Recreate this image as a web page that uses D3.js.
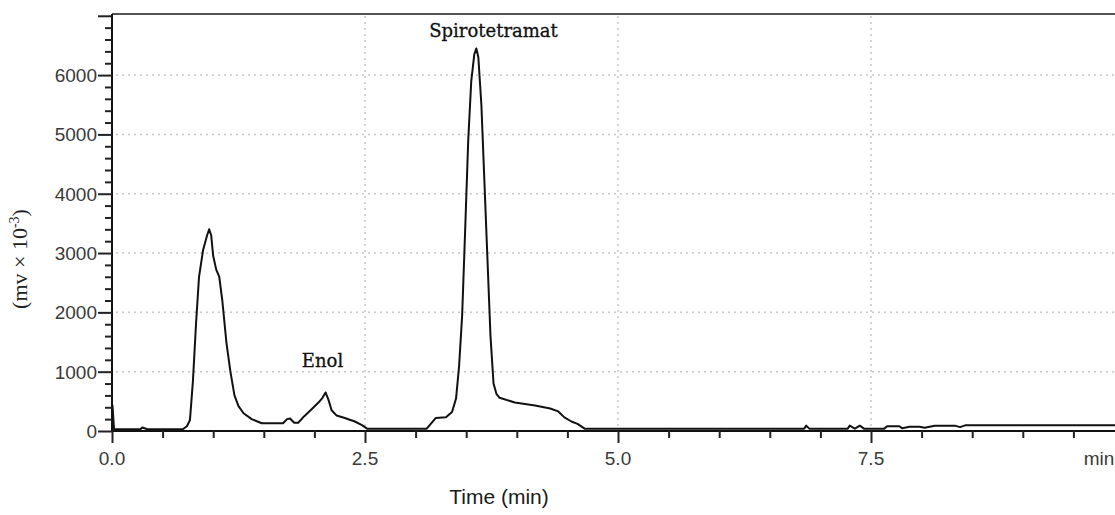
<!DOCTYPE html>
<html>
<head>
<meta charset="utf-8">
<script src="https://cdn.jsdelivr.net/npm/d3@7"></script>
<style>
  html, body { margin: 0; padding: 0; background: #fff; overflow: hidden; }
  svg { display: block; }
</style>
</head>
<body>
<div id="chart"></div>
<script>
/* ── Data ─────────────────────────────────────────────────────────── */
const TIME = [0.00, 0.005, 0.02, 0.28, 0.30, 0.35, 0.70, 0.74, 0.77, 0.80, 0.83, 0.86, 0.90, 0.94, 0.96,
  0.98, 1.00, 1.03, 1.06, 1.09, 1.13, 1.17, 1.21, 1.25, 1.30, 1.38, 1.48, 1.69, 1.73, 1.76, 1.80,
  1.84, 1.90, 1.98, 2.04, 2.08, 2.11, 2.14, 2.17, 2.22, 2.30, 2.40, 2.47, 2.52, 3.11, 3.15, 3.20,
  3.30, 3.36, 3.40, 3.43, 3.46, 3.49, 3.52, 3.55, 3.58, 3.60, 3.62, 3.65, 3.68, 3.71, 3.74, 3.77,
  3.80, 3.83, 3.98, 4.18, 4.33, 4.41, 4.47, 4.54, 4.60, 4.67, 6.84, 6.86, 6.89, 7.27, 7.29, 7.34,
  7.39, 7.43, 7.63, 7.66, 7.78, 7.81, 7.88, 7.98, 8.03, 8.13, 8.33, 8.38, 8.43, 9.95];
const SIGNAL = [430, 430, 30, 30, 60, 30, 30, 80, 180, 850, 1800, 2600, 3050, 3300, 3400,
  3300, 2950, 2720, 2600, 2200, 1500, 1000, 600, 420, 300, 200, 130, 130, 200, 210, 140,
  140, 250, 380, 480, 560, 650, 520, 350, 260, 220, 160, 100, 40, 40, 120, 220,
  230, 320, 550, 1100, 1950, 3400, 4900, 5900, 6350, 6450, 6300, 5500, 4200, 2900, 1600, 800,
  620, 560, 480, 430, 380, 330, 230, 160, 120, 40, 40, 90, 40, 40, 90, 40,
  90, 40, 40, 80, 80, 45, 70, 70, 55, 90, 90, 65, 95, 95];

const X_MAJOR = [0, 2.5, 5, 7.5];
const X_LABELS = ['0.0', '2.5', '5.0', '7.5'];
const Y_MAJOR = [0, 1000, 2000, 3000, 4000, 5000, 6000];
const PEAKS = [
  { name: 'Enol', t: 2.08, v: 900 },
  { name: 'Spirotetramat', t: 3.77, v: 6460 },
];

/* ── Layout ───────────────────────────────────────────────────────── */
const W = 1115, H = 515;
const X0 = 112, X1 = 1124;   // plot runs past the right edge (clipped in the source)
const Y0 = 431, Y1 = 14;

const x = d3.scaleLinear().domain([0, 10]).range([X0, X1]);
const y = d3.scaleLinear().domain([0, 7030]).range([Y0, Y1]);

const svg = d3.select('#chart').append('svg')
  .attr('width', W).attr('height', H)
  .attr('viewBox', `0 0 ${W} ${H}`);

/* ── Dotted grid ──────────────────────────────────────────────────── */
const grid = svg.append('g').attr('stroke', '#c8c8c8').attr('stroke-width', 1.5)
  .attr('stroke-dasharray', '2,4');

grid.selectAll('line.h').data(Y_MAJOR.slice(1)).join('line')
  .attr('x1', X0 + 4).attr('x2', W)
  .attr('y1', d => y(d)).attr('y2', d => y(d));

grid.selectAll('line.v').data(X_MAJOR.slice(1)).join('line')
  .attr('y1', Y1 + 2).attr('y2', Y0)
  .attr('x1', d => x(d)).attr('x2', d => x(d));

/* ── Frame ────────────────────────────────────────────────────────── */
svg.append('line').attr('x1', X0).attr('x2', W).attr('y1', Y1).attr('y2', Y1)
  .attr('stroke', '#555').attr('stroke-width', 2);

/* ── Axes ─────────────────────────────────────────────────────────── */
const yAxis = svg.append('g').attr('transform', `translate(${X0},0)`);
yAxis.call(d3.axisLeft(y).tickValues(d3.range(0, 7001, 200)).tickSize(7).tickFormat(''));
yAxis.call(g => g.selectAll('.tick line').attr('stroke', '#222').attr('stroke-width', 2));
yAxis.selectAll('.tick').filter(d => d % 1000 === 0).select('line').attr('x2', -14);
yAxis.select('.domain').attr('stroke', '#111').attr('stroke-width', 2).attr('d', `M0,${Y0}V${Y1}`);

yAxis.selectAll('text.lbl').data(Y_MAJOR).join('text')
  .attr('x', -15).attr('y', d => y(d)).attr('dy', '0.36em')
  .attr('text-anchor', 'end')
  .attr('font-family', 'Liberation Sans, Arial, sans-serif').attr('font-size', 19)
  .attr('fill', '#3a3a3a').text(d => d);

const xAxis = svg.append('g').attr('transform', `translate(0,${Y0})`);
xAxis.call(d3.axisBottom(x).tickValues(d3.range(0, 10.01, 0.5)).tickSize(7).tickFormat(''));
xAxis.call(g => g.selectAll('.tick line').attr('stroke', '#222').attr('stroke-width', 2));
xAxis.selectAll('.tick').filter(d => Math.abs(d % 2.5) < 1e-6).select('line').attr('y2', 12);
xAxis.select('.domain').attr('stroke', '#111').attr('stroke-width', 2).attr('d', `M${X0},0H${X1}`);

xAxis.selectAll('text.lbl').data(X_MAJOR).join('text')
  .attr('x', d => x(d)).attr('y', 34)
  .attr('text-anchor', 'middle')
  .attr('font-family', 'Liberation Sans, Arial, sans-serif').attr('font-size', 19)
  .attr('fill', '#3a3a3a').text((d, i) => X_LABELS[i]);

// unit label at the far end, partly cut by the image edge as in the source
xAxis.append('text').attr('x', 1099).attr('y', 34)
  .attr('font-family', 'Liberation Sans, Arial, sans-serif').attr('font-size', 19)
  .attr('fill', '#3a3a3a').text('min');

/* ── Axis titles ──────────────────────────────────────────────────── */
svg.append('text')
  .attr('x', 499).attr('y', 504).attr('text-anchor', 'middle')
  .attr('font-family', 'Liberation Sans, Arial, sans-serif').attr('font-size', 21)
  .attr('fill', '#1a1a1a').text('Time (min)');

const yt = svg.append('text')
  .attr('transform', 'translate(27,259) rotate(-90)')
  .attr('text-anchor', 'middle')
  .attr('font-family', 'Liberation Serif, Times New Roman, serif').attr('font-size', 22)
  .attr('fill', '#222');
yt.append('tspan').text('(mv × 10');
yt.append('tspan').attr('font-size', 14).attr('dy', -8).text('-3');
yt.append('tspan').attr('dy', 8).text(')');

/* ── Trace ────────────────────────────────────────────────────────── */
const pts = TIME.map((t, i) => [t, SIGNAL[i]]);
svg.append('path').datum(pts)
  .attr('fill', 'none').attr('stroke', '#111').attr('stroke-width', 2)
  .attr('stroke-linejoin', 'round')
  .attr('d', d3.line().x(d => x(d[0])).y(d => y(d[1])));

/* ── Peak labels ──────────────────────────────────────────────────── */
svg.selectAll('text.peak').data(PEAKS).join('text')
  .attr('x', d => x(d.t)).attr('y', d => y(d.v) - 11)
  .attr('text-anchor', 'middle')
  .attr('font-family', 'DejaVu Serif, serif').attr('font-size', 18)
  .attr('stroke', '#111').attr('stroke-width', 0.3)
  .attr('fill', '#111').text(d => d.name);
</script>
</body>
</html>
